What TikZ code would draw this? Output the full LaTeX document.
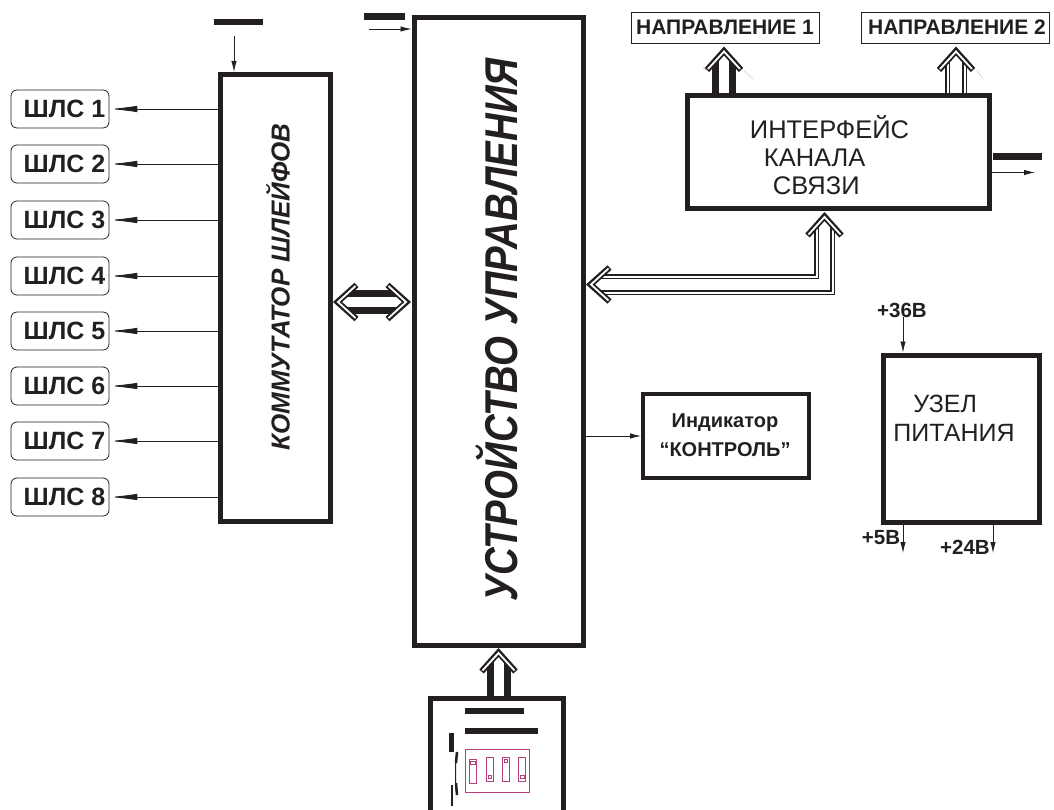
\documentclass[tikz,border=0pt]{standalone}
\usepackage{fontspec}
\setmainfont{Liberation Sans}
\usetikzlibrary{arrows.meta,calc}
\definecolor{ink}{RGB}{35,31,32}
\definecolor{dippink}{RGB}{184,64,122}
\begin{document}
\begin{tikzpicture}[
  x=1pt,y=-1pt,
  blockbox/.style={draw=ink, line width=5pt, inner sep=0pt, align=center, text=ink},
  loopbox/.style={draw=ink, line width=.8pt, rounded corners=6pt, minimum width=98pt, minimum height=38pt, inner sep=0pt, font=\bfseries\fontsize{25}{25}\selectfont, text=ink},
  dirbox/.style={draw=ink, line width=.8pt, minimum width=188pt, minimum height=31pt, inner sep=0pt, font=\bfseries\fontsize{21}{21}\selectfont, text=ink},
  inklabel/.style={inner sep=0pt, text=ink, font=\bfseries\fontsize{20.5}{20.5}\selectfont},
  plainlabel/.style={inner sep=0pt, text=ink, align=left, font=\fontsize{25.5}{28}\selectfont},
  blackbar/.style={fill=ink, inner sep=0pt},
  sigline/.style={draw=ink, line width=.8pt, -{Latex[length=11pt,width=5.5pt]}},
  loopline/.style={draw=ink, line width=.9pt, -{Latex[length=28pt,width=6.5pt]}},
  busthick/.style={draw=ink, line width=7pt, double=white, double distance=10pt},
  busthin/.style={draw=ink, line width=1.2pt, double=white, double distance=2pt},
  dipbox/.style={draw=dippink, line width=.8pt, inner sep=0pt},
  chevron/.pic={
    \draw[ink, line width=6pt] (-17,24) -- (0,5) -- (17,24);
    \draw[white, line width=1.8pt] (-16,23) -- (0,5.5) -- (16,23);
  }
]
\useasboundingbox (0,0) rectangle (1054,810);
% main blocks
\node[blockbox, minimum width=110pt, minimum height=447pt] (comm) at (275,298) {};
\node[blockbox, minimum width=169pt, minimum height=627pt] (ctrl) at (498.5,331.5) {};
\node[blockbox, minimum width=302pt, minimum height=113pt] (iface) at (838,152.5) {};
\node[blockbox, minimum width=156pt, minimum height=167pt] (power) at (961,438.5) {};
\node[blockbox, line width=4pt, minimum width=166pt, minimum height=84pt] (ind) at (726,436) {};
\node[blockbox, minimum width=133pt, minimum height=120pt] (sw) at (496.5,758) {};
% labels of the blocks
\node[inner sep=0pt, text=ink, font=\bfseries\itshape\fontsize{46}{46}\selectfont] (ctrltext) at (497,330) {\rotatebox{90}{\scalebox{.835}[1]{УСТРОЙСТВО УПРАВЛЕНИЯ}}};
\node[inner sep=0pt, text=ink, font=\bfseries\itshape\fontsize{26}{26}\selectfont] (commtext) at (278,287) {\rotatebox{90}{КОММУТАТОР ШЛЕЙФОВ}};
\node[plainlabel] (iftext) at (829.5,155) {ИНТЕРФЕЙС\\\hspace*{14pt}КАНАЛА\\\hspace*{23pt}СВЯЗИ};
\node[plainlabel, font=\fontsize{25}{29}\selectfont] (powtext) at (954,418) {\hspace*{20pt}УЗЕЛ\\ПИТАНИЯ};
\node[inklabel, align=center, font=\bfseries\fontsize{20}{29}\selectfont] (indtext) at (725,435) {Индикатор\\“КОНТРОЛЬ”};
% loops
\foreach \n/\y in {1/109,2/164,3/220,4/276,5/331,6/386,7/441,8/497}{
  \node[loopbox] (loop\n) at (60,\y) {\hspace*{9pt}ШЛС \n};
  \draw[loopline] (comm.west |- loop\n.east) -- (loop\n.east);
}
% directions
\node[dirbox] (dir1) at (725,27.5) {НАПРАВЛЕНИЕ 1};
\node[dirbox] (dir2) at (955,27.5) {\hspace*{4pt}НАПРАВЛЕНИЕ 2};
% small black bars and thin signals
\node[blackbar, minimum width=49pt, minimum height=6pt] (barcomm) at (238,22) {};
\node[blackbar, minimum width=41pt, minimum height=7pt] (barctrl) at (384,16.5) {};
\node[blackbar, minimum width=49pt, minimum height=7pt] (barif) at (1017.5,156.5) {};
\coordinate (incomm) at (234,36);
\coordinate (inctrl) at (369,29);
\coordinate (outif) at (1035,172.5);
\draw[sigline] (incomm) -- (incomm |- comm.north);
\draw[sigline] (inctrl) -- (inctrl -| ctrl.west);
\draw[sigline] (iface.east |- outif) -- (outif);
\draw[sigline] (ctrl.east |- ind.west) -- (ind.west);
% power
\node[inklabel] (v36) at (902,310) {+36В};
\node[inklabel] (v5) at (881,538) {+5В};
\node[inklabel] (v24) at (965,547) {+24В};
\coordinate (out5) at (903,553);
\coordinate (out24) at (993,553);
\draw[sigline] (v36.south -| out5) -- (out5 |- power.north);
\draw[sigline] (out5 |- power.south) -- (out5);
\draw[sigline] (out24 |- power.south) -- (out24);
% buses
\coordinate (d1) at (724,46);
\coordinate (d2) at (956,46);
\coordinate (cbus) at (372,302);
\coordinate (bend) at (824.5,284.5);
\draw[busthick] (sw.north -| ctrl.south) -- ($(ctrl.south)+(0,14)$);
\draw[busthick] (iface.north -| d1) -- ($(d1)+(0,14)$);
\draw[busthick] ($(comm.east |- cbus)+(14,0)$) -- ($(ctrl.west |- cbus)+(-14,0)$);
\foreach \s in {-8.5,8.5}{
  \draw[busthin] ($(iface.north -| d2)+(\s,0)$) -- ($(d2)+(\s,14)$);
}
\foreach \s in {-8,8}{
  \draw[busthin] ($(iface.south -| bend)+(\s,14)$) -- ($(bend)+(\s,\s)$) -- ($(ctrl.east |- bend)+(14,\s)$);
}
\pic at (ctrl.south) {chevron};
\pic at (d1) {chevron};
\pic at (d2) {chevron};
\pic[rotate=90] at (comm.east |- cbus) {chevron};
\pic[rotate=-90] at (ctrl.west |- cbus) {chevron};
\pic at (iface.south -| bend) {chevron};
\pic[rotate=90] at (ctrl.east |- bend) {chevron};
% stray marks
\draw[gray!50, line width=.4pt] (744,71) -- (753,79);
\draw[gray!50, line width=.4pt] (977,71) -- (983,79);
\draw[gray!50, line width=.4pt] (703,67) -- (706,70);
% switch block
\node[blackbar, minimum width=59pt, minimum height=6pt] (bartop) at (494.5,711) {};
\node[blackbar, minimum width=73pt, minimum height=6pt] (barmid) at (501.5,731) {};
\node[blackbar, minimum width=5pt, minimum height=19pt] (barleft) at (451.5,742.5) {};
\node[blackbar, minimum width=2pt, minimum height=21pt] (barlow) at (452,795.5) {};
\draw[ink, line width=1pt] (457,752) .. controls (455,760) and (455,787) .. (457,795);
\draw[ink, line width=2.5pt] (457,752) -- (456,763);
\draw[ink, line width=2.5pt] (456,783) -- (457,795);
\node[dipbox, minimum width=64pt, minimum height=43pt] (dip) at (497,770.5) {};
\foreach \x/\y/\sx/\sy/\w in {473/771/473/762.5/4.5,490/769/490/777/3,506/769/506/761/3,522/769/522.5/777/4.5}{
  \node[dipbox, minimum width=6.5pt, minimum height=24pt] at (\x,\y) {};
  \node[dipbox, minimum width=\w pt, minimum height=3pt] at (\sx,\sy) {};
}
\end{tikzpicture}
\end{document}
